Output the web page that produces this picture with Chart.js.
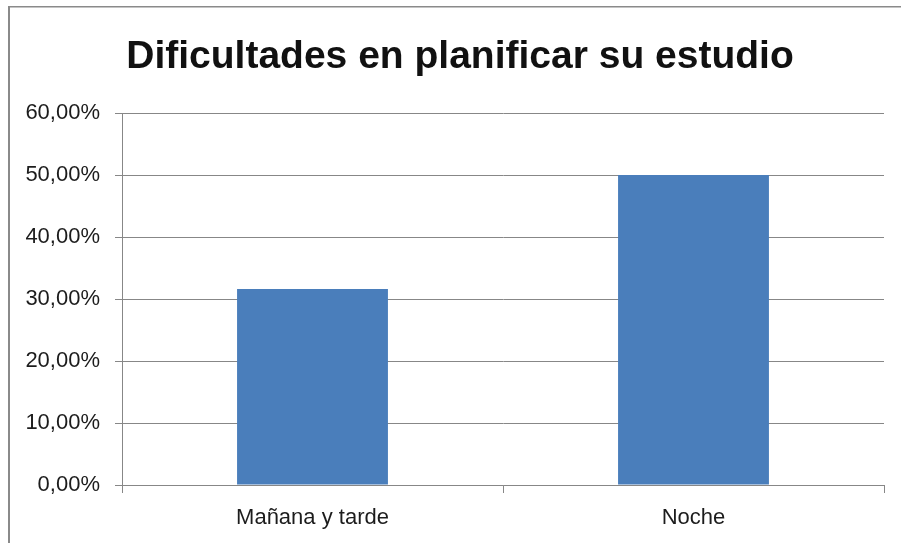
<!DOCTYPE html>
<html>
<head>
<meta charset="utf-8">
<script src="https://cdn.jsdelivr.net/npm/chart.js@4/dist/chart.umd.min.js"></script>
<style>
  html, body { margin: 0; padding: 0; background: #ffffff; }
  #wrap { width: 901px; height: 543px; position: relative; }
</style>
</head>
<body>
<div id="wrap"><canvas id="c" width="901" height="543"></canvas></div>
<script>
const titleText = "Dificultades en planificar su estudio";
const categories = ["Mañana y tarde", "Noche"];
const seriesValues = [31.6, 50.0];
const yTickValues = [0, 10, 20, 30, 40, 50, 60];

const gridGray = "#878787";
const frameGray = "#8a8a8a";
const barBlue = "#4a7ebb";
const textColor = "#1c1c1c";

const framePlugin = {
  id: "frame",
  afterLayout(chart) {
    if (chart.titleBlock) {
      chart.titleBlock.left = 36;
    }
  },
  afterDraw(chart) {
    const ctx = chart.ctx;
    ctx.save();
    ctx.fillStyle = frameGray;
    ctx.fillRect(8, 6, 2, chart.height);
    ctx.fillRect(8, 6, chart.width, 1.5);
    ctx.restore();
  }
};

new Chart(document.getElementById("c"), {
  type: "bar",
  data: {
    labels: categories,
    datasets: [{
      data: seriesValues,
      backgroundColor: barBlue,
      borderWidth: 0,
      barPercentage: 0.396,
      categoryPercentage: 1.0
    }]
  },
  options: {
    responsive: false,
    animation: false,
    devicePixelRatio: 1,
    layout: { padding: { left: 0, right: 17, top: 0, bottom: 0 } },
    plugins: {
      legend: { display: false },
      tooltip: { enabled: false },
      title: {
        display: true,
        text: titleText,
        color: "#111111",
        font: { family: "Liberation Sans", size: 39, weight: "bold", lineHeight: 1.2 },
        padding: { top: 34, bottom: 32.2 }
      }
    },
    scales: {
      x: {
        afterFit(scale) { scale.height = 58; },
        grid: {
          display: true,
          drawOnChartArea: false,
          offset: true,
          tickLength: 8,
          color: gridGray,
          lineWidth: 1
        },
        border: { display: true, color: gridGray, width: 1 },
        ticks: {
          color: textColor,
          padding: 12,
          font: { family: "Liberation Sans", size: 22, lineHeight: 1.2 }
        }
      },
      y: {
        min: 0,
        max: 60,
        afterBuildTicks(scale) {
          scale.ticks = yTickValues.map(v => ({ value: v }));
        },
        afterFit(scale) { scale.width = 122; },
        grid: {
          color: gridGray,
          lineWidth: 1,
          tickLength: 7
        },
        border: { display: true, color: gridGray, width: 1 },
        ticks: {
          color: textColor,
          padding: 15,
          font: { family: "Liberation Sans", size: 22, lineHeight: 1.2 },
          callback: (v) => Number(v).toFixed(2).replace(".", ",") + "%"
        }
      }
    }
  },
  plugins: [framePlugin]
});
</script>
</body>
</html>
